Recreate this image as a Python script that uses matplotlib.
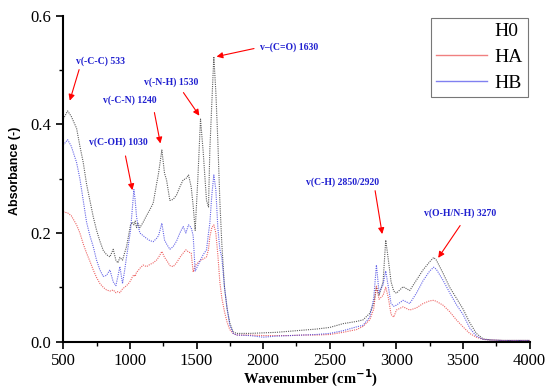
import matplotlib.pyplot as plt
from matplotlib.lines import Line2D
from matplotlib.ticker import MultipleLocator

# wavenumber grid (cm-1) and absorbance
wavenumber = [500, 533, 560, 600, 625, 650, 675, 700, 725, 750, 775, 800, 825, 850, 875, 895, 910, 925, 945, 960,
              975, 990, 1005, 1020, 1030, 1040, 1050, 1060, 1075, 1100, 1125, 1150, 1175, 1200, 1215, 1240, 1260,
              1275, 1300, 1325, 1350, 1375, 1400, 1420, 1440, 1460, 1475, 1490, 1510, 1530, 1550, 1575, 1590, 1600,
              1615, 1630, 1645, 1660, 1675, 1690, 1710, 1730, 1750, 1775, 1800, 1900, 2000, 2100, 2200, 2300, 2400,
              2500, 2600, 2700, 2750, 2800, 2830, 2850, 2870, 2900, 2920, 2940, 2960, 2980, 3000, 3050, 3100, 3150,
              3200, 3250, 3280, 3300, 3350, 3400, 3450, 3500, 3550, 3600, 3650, 3700, 3800, 3900, 4000]

h0 = [0.41, 0.425, 0.415, 0.393, 0.36, 0.33, 0.29, 0.26, 0.23, 0.205, 0.185, 0.168, 0.16, 0.156, 0.17, 0.15, 0.145,
      0.155, 0.15, 0.163, 0.175, 0.195, 0.215, 0.22, 0.215, 0.222, 0.21, 0.218, 0.21, 0.22, 0.232, 0.243, 0.255,
      0.29, 0.31, 0.353, 0.31, 0.298, 0.26, 0.262, 0.27, 0.285, 0.298, 0.3, 0.307, 0.285, 0.25, 0.205, 0.3, 0.41,
      0.35, 0.26, 0.248, 0.353, 0.44, 0.525, 0.46, 0.37, 0.26, 0.18, 0.1, 0.06, 0.034, 0.018, 0.015, 0.015, 0.016,
      0.017, 0.019, 0.021, 0.023, 0.026, 0.033, 0.037, 0.04, 0.052, 0.07, 0.1, 0.085, 0.11, 0.187, 0.15, 0.11,
      0.093, 0.089, 0.101, 0.094, 0.113, 0.132, 0.147, 0.155, 0.15, 0.126, 0.1, 0.08, 0.06, 0.035, 0.015, 0.005,
      0.003, 0.002, 0.002, 0.002]

ha = [0.239, 0.237, 0.232, 0.215, 0.2, 0.18, 0.163, 0.148, 0.132, 0.118, 0.107, 0.1, 0.095, 0.093, 0.095, 0.09,
      0.092, 0.09, 0.097, 0.1, 0.103, 0.107, 0.112, 0.12, 0.123, 0.12, 0.128, 0.13, 0.135, 0.141, 0.138, 0.142,
      0.145, 0.15, 0.155, 0.166, 0.155, 0.15, 0.14, 0.138, 0.145, 0.155, 0.163, 0.169, 0.165, 0.163, 0.128, 0.14,
      0.145, 0.15, 0.152, 0.156, 0.17, 0.193, 0.21, 0.215, 0.2, 0.16, 0.11, 0.08, 0.055, 0.035, 0.022, 0.015, 0.012,
      0.012, 0.011, 0.011, 0.011, 0.012, 0.012, 0.013, 0.017, 0.022, 0.028, 0.04, 0.06, 0.102, 0.078, 0.085, 0.1,
      0.08, 0.05, 0.045, 0.058, 0.064, 0.058, 0.062, 0.07, 0.075, 0.076, 0.074, 0.067, 0.055, 0.04, 0.027, 0.015,
      0.008, 0.004, 0.003, 0.002, 0.002, 0.002]

hb = [0.362, 0.372, 0.36, 0.33, 0.3, 0.26, 0.22, 0.195, 0.175, 0.15, 0.132, 0.12, 0.122, 0.132, 0.11, 0.103, 0.12,
      0.138, 0.107, 0.13, 0.156, 0.18, 0.205, 0.25, 0.28, 0.26, 0.23, 0.215, 0.2, 0.195, 0.19, 0.186, 0.184, 0.19,
      0.195, 0.218, 0.187, 0.18, 0.17, 0.175, 0.185, 0.2, 0.212, 0.2, 0.215, 0.21, 0.195, 0.13, 0.14, 0.15, 0.16,
      0.169, 0.2, 0.218, 0.27, 0.307, 0.28, 0.21, 0.17, 0.155, 0.1, 0.06, 0.03, 0.015, 0.012, 0.011, 0.008, 0.01,
      0.011, 0.012, 0.013, 0.015, 0.02, 0.027, 0.03, 0.045, 0.08, 0.141, 0.09, 0.105, 0.13, 0.1, 0.07, 0.065, 0.067,
      0.076, 0.07, 0.089, 0.112, 0.13, 0.137, 0.133, 0.113, 0.09, 0.068, 0.05, 0.025, 0.01, 0.004, 0.003, 0.002,
      0.002, 0.002]

# band labels: text, text position, arrow start, arrow tip
bands = [
    ("v(-C-C) 533", (783, 0.517), (625, 0.506), (543, 0.439)),
    ("v(-N-H) 1530", (1309, 0.478), (1390, 0.463), (1533, 0.412)),
    ("v(-C-N) 1240", (1001, 0.445), (1180, 0.427), (1233, 0.36)),
    ("v(C-OH) 1030", (911, 0.368), (963, 0.347), (1023, 0.274)),
    ("v\u2013(C=O) 1630", (2193, 0.543), (1952, 0.541), (1630, 0.524)),
    ("v(C-H) 2850/2920", (2598, 0.294), (2837, 0.283), (2897, 0.193)),
    ("v(O-H/N-H) 3270", (3475, 0.237), (3490, 0.218), (3302, 0.15)),
]

serif = "Liberation Serif"

fig = plt.figure(figsize=(5.5, 3.89), dpi=100)
ax = fig.add_axes([0.115, 0.122, 0.848, 0.837])

ax.plot(wavenumber, h0, color="#404040", lw=0.8, ls=(0, (1, 1)), alpha=0.85)
ax.plot(wavenumber, ha, color="#e83030", lw=0.8, ls=(0, (1, 1)), alpha=0.75)
ax.plot(wavenumber, hb, color="#3030e0", lw=0.8, ls=(0, (1, 1)), alpha=0.75)

for label, txt, start, tip in bands:
    ax.text(txt[0], txt[1], label, color="#2020d0", fontsize=7, fontweight="bold",
            family=serif, ha="center", va="center")
    ax.annotate("", xy=tip, xytext=start,
                arrowprops=dict(arrowstyle="-|>", color="red", lw=0.8, mutation_scale=9))

ax.set_xlim(500, 4000)
ax.set_ylim(0, 0.6)
ax.xaxis.set_major_locator(MultipleLocator(500))
ax.xaxis.set_minor_locator(MultipleLocator(250))
ax.yaxis.set_major_locator(MultipleLocator(0.2))
ax.yaxis.set_minor_locator(MultipleLocator(0.1))
ax.tick_params(which="major", direction="out", length=5, width=1.2, labelsize=12)
ax.tick_params(which="minor", direction="out", length=3, width=1.0)
for t in ax.get_xticklabels() + ax.get_yticklabels():
    t.set_family(serif)

ax.spines["top"].set_visible(False)
ax.spines["right"].set_visible(False)
ax.spines["left"].set_linewidth(1.5)
ax.spines["bottom"].set_linewidth(1.5)

ax.set_xlabel("Wavenumber (cm$^{\\mathbf{-1}}$)", fontsize=10.5, fontweight="bold", family=serif)
ax.xaxis.set_label_coords(0.53, -0.082)
ax.set_ylabel("Absorbance (-)", fontsize=9, fontweight="bold", family="Liberation Sans")
ax.yaxis.set_label_coords(-0.09, 0.525)

handles = [Line2D([], [], color="white", lw=1),
           Line2D([], [], color="#f08080", lw=1),
           Line2D([], [], color="#8080f0", lw=1)]
leg = ax.legend(handles, ["H0", "HA", "HB"], loc="upper right", bbox_to_anchor=(1.0, 1.0),
                prop={"family": serif, "size": 14}, fancybox=False, edgecolor="#555555",
                handlelength=2.6, handletextpad=0.4, borderpad=0.25, labelspacing=0.42, borderaxespad=0.1)
leg.get_frame().set_linewidth(0.8)

fig.savefig("out.png", dpi=100)
